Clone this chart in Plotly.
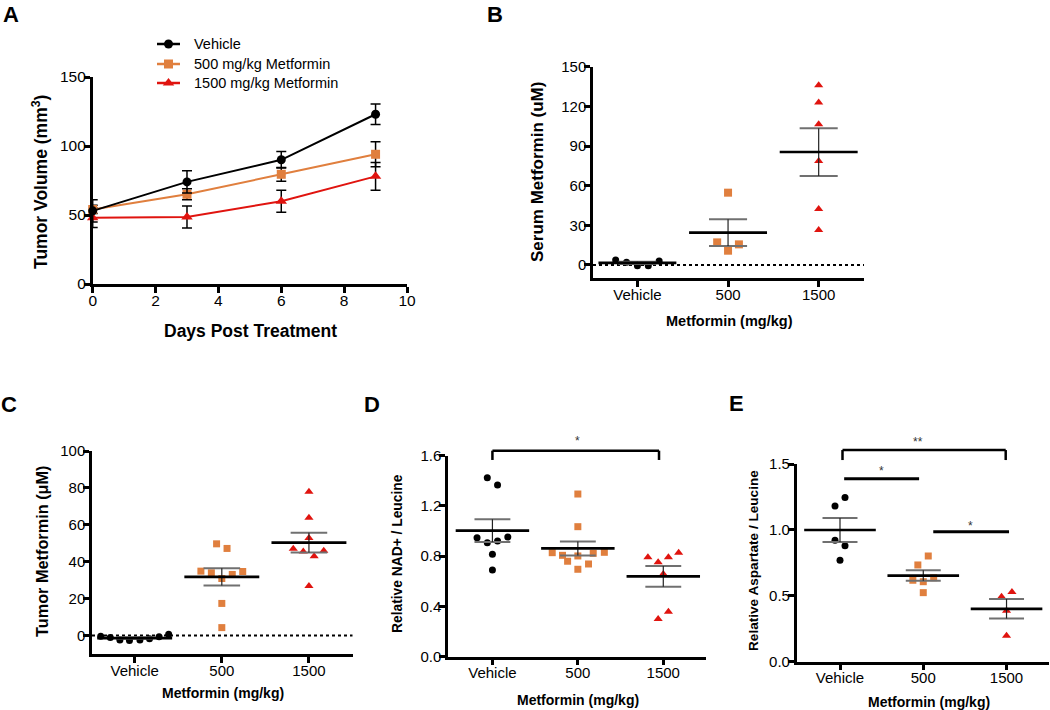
import numpy as np
import plotly.graph_objects as go

W, H = 1050, 710
FONT = "Liberation Sans"
BLACK = "black"
ORANGE = "#E07F3E"
RED = "#E0140F"

# ---------------- Panel A data ----------------
days = [0, 3, 6, 9]
vehicle_vol = [53, 74, 90, 123]
vehicle_sem = [8, 8, 6, 7.5]
m500_vol = [54, 65, 79.5, 94]
m500_sem = [3, 4, 5, 9]
m1500_vol = [48, 48.5, 60, 78]
m1500_sem = [7, 8, 8, 10]
series_names = ["Vehicle", "500 mg/kg Metformin", "1500 mg/kg Metformin"]
a_xticks = [0, 2, 4, 6, 8, 10]
a_yticks = [0, 50, 100, 150]

# ---------------- Group panels ----------------
groups = ["Vehicle", "500", "1500"]

# B: serum metformin (uM)
b_vehicle = [3.8, 2.0, -0.5, -0.5, 3.0]
b_500 = [54.7, 17.1, 10.8, 15.6]
b_1500 = [136, 123, 106.4, 78.6, 42.3, 26.5]
b_yticks = [0, 30, 60, 90, 120, 150]

# C: tumor metformin (uM)
c_vehicle = [-0.4, -1.1, -2.4, -2.7, -2.4, -1.8, -0.7, 0.7]
c_500 = [34.9, 34.0, 49.7, 47.2, 30.9, 33.1, 34.7, 17.4, 4.3]
c_1500 = [77.9, 63.8, 52.8, 47.0, 45.6, 43.0, 45.9, 26.8]
c_yticks = [0, 20, 40, 60, 80, 100]

# D: relative NAD+ / leucine
d_vehicle = [1.425, 1.367, 0.947, 0.908, 0.921, 0.953, 0.815, 0.69]
d_500 = [1.295, 1.035, 0.828, 0.807, 0.760, 0.802, 0.696, 0.738, 0.823, 0.831]
d_1500 = [0.791, 0.752, 0.791, 0.828, 0.658, 0.30, 0.358]
d_yticks = [0.0, 0.4, 0.8, 1.2, 1.6]

# E: relative aspartate / leucine
e_vehicle = [1.245, 1.181, 0.921, 0.880, 0.769]
e_500 = [0.802, 0.734, 0.618, 0.607, 0.637, 0.524]
e_1500 = [0.493, 0.529, 0.387, 0.197]
e_yticks = [0.0, 0.5, 1.0, 1.5]

# horizontal scatter offsets of points (layout, in category units)
b_dx = [[-0.24, -0.12, 0, 0.12, 0.24], [0, -0.12, 0, 0.12], [0, 0, 0, 0, 0, 0]]
c_dx = [[-0.39, -0.28, -0.17, -0.06, 0.06, 0.17, 0.28, 0.39],
        [-0.24, -0.12, -0.06, 0.06, 0, 0.12, 0.24, 0, 0],
        [0, 0, 0, -0.18, -0.065, 0.06, 0.17, 0]]
d_dx = [[-0.06, 0.06, -0.18, -0.06, 0.06, 0.18, 0, 0],
        [0, 0, -0.30, -0.18, -0.12, 0, 0, 0.125, 0.18, 0.31],
        [-0.18, -0.06, 0.06, 0.18, 0, -0.06, 0.06]]
e_dx = [[0.06, -0.06, -0.06, 0.06, 0],
        [0.06, -0.065, -0.125, 0, 0.125, 0],
        [-0.06, 0.065, 0, 0]]

MEAN_HW = 0.43
CAP_HW = 0.21


def pxp(x, y):
    return x / W, 1 - y / H


def dom(xpx0, xpx1, ypx_bottom, ypx_top):
    return [xpx0 / W, xpx1 / W], [1 - ypx_bottom / H, 1 - ypx_top / H]


fig = go.Figure()

# ---------- Panel A traces ----------
a_specs = [
    (m1500_vol, m1500_sem, series_names[2], RED, "triangle-up", 10),
    (m500_vol, m500_sem, series_names[1], ORANGE, "square", 9),
    (vehicle_vol, vehicle_sem, series_names[0], BLACK, "circle", 9),
]
for vals, sem, name, col, sym, sz in a_specs:
    fig.add_trace(go.Scatter(
        x=days, y=vals, name=name, mode="lines+markers",
        line=dict(color=col, width=2),
        marker=dict(symbol=sym, size=sz, color=col),
        error_y=dict(type="data", array=sem, color="black", thickness=1.5, width=5),
        cliponaxis=False, showlegend=False, xaxis="x", yaxis="y"))

# ---------- manual legend for panel A (own pixel-unit helper axis) ----------
LEG_ROWS = [44, 64, 83]
for (vals, sem, name, col, sym, sz), row in zip(a_specs[::-1], LEG_ROWS):
    fig.add_trace(go.Scatter(
        x=[157, 180], y=[row, row], mode="lines", line=dict(color=col, width=2.5),
        showlegend=False, hoverinfo="skip", xaxis="x6", yaxis="y6"))
    fig.add_trace(go.Scatter(
        x=[168.5], y=[row], mode="markers", marker=dict(symbol=sym, size=sz, color=col),
        showlegend=False, hoverinfo="skip", cliponaxis=False, xaxis="x6", yaxis="y6"))


def add_group(vals, dx, i, sym, col, size, xa, ya):
    fig.add_trace(go.Scatter(
        x=[i + d for d in dx], y=vals, mode="markers",
        marker=dict(symbol=sym, size=size, color=col, line=dict(width=0)),
        showlegend=False, cliponaxis=False, xaxis=xa, yaxis=ya))
    m = float(np.mean(vals))
    s = float(np.std(vals, ddof=1) / np.sqrt(len(vals)))
    fig.add_trace(go.Scatter(
        x=[i - CAP_HW, i + CAP_HW, None, i - CAP_HW, i + CAP_HW],
        y=[m + s, m + s, None, m - s, m - s], mode="lines",
        line=dict(color="#707070", width=2), showlegend=False,
        hoverinfo="skip", xaxis=xa, yaxis=ya))
    fig.add_trace(go.Scatter(
        x=[i, i], y=[m - s, m + s], mode="lines",
        line=dict(color="#222222", width=1.2), showlegend=False,
        hoverinfo="skip", xaxis=xa, yaxis=ya))
    fig.add_trace(go.Scatter(
        x=[i - MEAN_HW, i + MEAN_HW], y=[m, m], mode="lines",
        line=dict(color="black", width=2.7), showlegend=False,
        hoverinfo="skip", xaxis=xa, yaxis=ya))


panel_data = [
    ("x2", "y2", [b_vehicle, b_500, b_1500], b_dx, [7, 8, 8]),
    ("x3", "y3", [c_vehicle, c_500, c_1500], c_dx, [7, 7, 8]),
    ("x4", "y4", [d_vehicle, d_500, d_1500], d_dx, [7, 7, 8]),
    ("x5", "y5", [e_vehicle, e_500, e_1500], e_dx, [7, 7, 8]),
]
syms = ["circle", "square", "triangle-up"]
cols = [BLACK, ORANGE, RED]
for xa, ya, sets, dxs, sizes in panel_data:
    for i, (vals, dx) in enumerate(zip(sets, dxs)):
        add_group(vals, dx, i, syms[i], cols[i], sizes[i], xa, ya)

# ---------- Axes ----------
base = dict(showline=True, linecolor="black", linewidth=2.5, ticks="outside",
            ticklen=6, tickwidth=2.5, tickcolor="black", showgrid=False,
            zeroline=False, automargin=False, ticklabelstandoff=-5,
            tickfont=dict(family=FONT, size=15, color="black"))

xA, yA = dom(92.7, 407, 284, 77)
xB, yB = dom(593, 864, 278.2, 66.7)
xC, yC = dom(92, 352.5, 654, 451)
xD, yD = dom(448, 706, 656.7, 455.7)
xE, yE = dom(796.7, 1049, 661.7, 464)
xL, yL = dom(140, 420, 100, 30)

rngB = [-10, 150]
rngC = [-10, 100]
rngD = [0, 1.6]
rngE = [0, 1.5]
catB = [-0.49, 2.5]
catC = [-0.49, 2.5]
catD = [-0.52, 2.5]
catE = [-0.52, 2.51]

fig.update_layout(
    xaxis=dict(base, domain=xA, anchor="y", range=[0, 10], tickvals=a_xticks,
               tickfont=dict(family=FONT, size=15.5, color="black")),
    yaxis=dict(base, domain=yA, anchor="x", range=[0, 150], tickvals=a_yticks,
               tickfont=dict(family=FONT, size=15.5, color="black")),
    xaxis2=dict(base, domain=xB, anchor="y2", range=catB, tickvals=[0, 1, 2], ticktext=groups),
    yaxis2=dict(base, domain=yB, anchor="x2", range=rngB, tickvals=b_yticks),
    xaxis3=dict(base, domain=xC, anchor="y3", range=catC, tickvals=[0, 1, 2], ticktext=groups),
    yaxis3=dict(base, domain=yC, anchor="x3", range=rngC, tickvals=c_yticks),
    xaxis4=dict(base, domain=xD, anchor="y4", range=catD, tickvals=[0, 1, 2], ticktext=groups),
    yaxis4=dict(base, domain=yD, anchor="x4", range=rngD, tickvals=d_yticks, tickformat=".1f"),
    xaxis5=dict(base, domain=xE, anchor="y5", range=catE, tickvals=[0, 1, 2], ticktext=groups),
    yaxis5=dict(base, domain=yE, anchor="x5", range=rngE, tickvals=e_yticks, tickformat=".1f"),
    xaxis6=dict(domain=xL, anchor="y6", range=[140, 420], visible=False, automargin=False),
    yaxis6=dict(domain=yL, anchor="x6", range=[100, 30], visible=False, automargin=False),
)

# ---------- Zero dotted lines ----------
shapes = []
for xa, ya in [("x2", "y2"), ("x3", "y3")]:
    shapes.append(dict(type="line", xref=xa + " domain", yref=ya, x0=0, x1=1, y0=0, y1=0,
                       line=dict(color="black", width=2, dash="dot"), layer="below"))


def frac(v, r):
    return (v - r[0]) / (r[1] - r[0])


def seg(xa, ya, xr, yr, x0, x1, y0, y1, w=2.5):
    shapes.append(dict(type="line", xref=xa + " domain", yref=ya + " domain",
                       x0=frac(x0, xr), x1=frac(x1, xr), y0=frac(y0, yr), y1=frac(y1, yr),
                       line=dict(color="black", width=w)))


# significance brackets D
d_br = dict(x0=0, x1=1.95, top=1.64, foot=1.566)
seg("x4", "y4", catD, rngD, d_br["x0"], d_br["x1"], d_br["top"], d_br["top"])
seg("x4", "y4", catD, rngD, d_br["x0"], d_br["x0"], d_br["foot"], d_br["top"])
seg("x4", "y4", catD, rngD, d_br["x1"], d_br["x1"], d_br["foot"], d_br["top"])
# significance brackets E
e_br = dict(x0=0.03, x1=1.99, top=1.606, foot=1.53)
seg("x5", "y5", catE, rngE, e_br["x0"], e_br["x1"], e_br["top"], e_br["top"])
seg("x5", "y5", catE, rngE, e_br["x0"], e_br["x0"], e_br["foot"], e_br["top"])
seg("x5", "y5", catE, rngE, e_br["x1"], e_br["x1"], e_br["foot"], e_br["top"])
seg("x5", "y5", catE, rngE, 0.05, 0.95, 1.388, 1.388, 3)
seg("x5", "y5", catE, rngE, 1.12, 2.03, 0.986, 0.986, 3)

# ---------- Annotations ----------
ann = []


def txt(text, x, y, size, angle=0, bold=True, xanchor="center", yanchor="middle"):
    px_, py_ = pxp(x, y)
    ann.append(dict(text=("<b>%s</b>" % text) if bold else text, x=px_, y=py_,
                    xref="paper", yref="paper", xanchor=xanchor, yanchor=yanchor,
                    showarrow=False, textangle=angle,
                    font=dict(family=FONT, size=size, color="black")))


# legend labels
for name, row in zip(series_names, LEG_ROWS):
    txt(name, 192, row, 14.5, bold=False, xanchor="left")

# panel letters
txt("A", 11, 0, 22, yanchor="top")
txt("B", 495, 0, 22, yanchor="top")
txt("C", 9, 404, 22)
txt("D", 372, 404, 22)
txt("E", 736, 403, 22)

# axis titles
txt("Tumor Volume (mm<sup>3</sup>)", 40, 182, 17.5, -90)
txt("Days Post Treatment", 250, 331, 17.5)
txt("Serum Metformin (uM)", 537, 172, 17, -90)
txt("Metformin (mg/kg)", 729, 321, 14.5)
txt("Tumor Metformin (μM)", 42, 551, 16.3, -90)
txt("Metformin (mg/kg)", 223, 693, 14)
txt("Relative NAD+ / Leucine", 397, 554, 13.8, -90)
txt("Metformin (mg/kg)", 578, 700, 14)
txt("Relative Aspartate / Leucine", 753, 561, 13.6, -90)
txt("Metformin (mg/kg)", 929, 702, 14)

# significance stars (positioned via the panels' axis ranges)
stars = [("x4", "y4", catD, rngD, 1.0, 1.715, "*"),
         ("x5", "y5", catE, rngE, 0.94, 1.665, "**"),
         ("x5", "y5", catE, rngE, 0.5, 1.445, "*"),
         ("x5", "y5", catE, rngE, 1.57, 1.032, "*")]
for xa, ya, xr, yr, xv, yv, s in stars:
    ann.append(dict(text=s, x=frac(xv, xr), y=frac(yv, yr),
                    xref=xa + " domain", yref=ya + " domain", showarrow=False,
                    xanchor="center", yanchor="middle",
                    font=dict(family=FONT, size=12, color="#333333")))

fig.update_layout(
    width=W, height=H, margin=dict(l=0, r=0, t=0, b=0, autoexpand=False),
    paper_bgcolor="white", plot_bgcolor="white", showlegend=False,
    shapes=shapes, annotations=ann,
    font=dict(family=FONT, color="black"),
)

fig.write_html(
    "out.html",
    config={"displayModeBar": False},
    post_script="document.body.style.margin='0';document.body.style.padding='0';"
                "document.documentElement.style.overflow='hidden';",
)
